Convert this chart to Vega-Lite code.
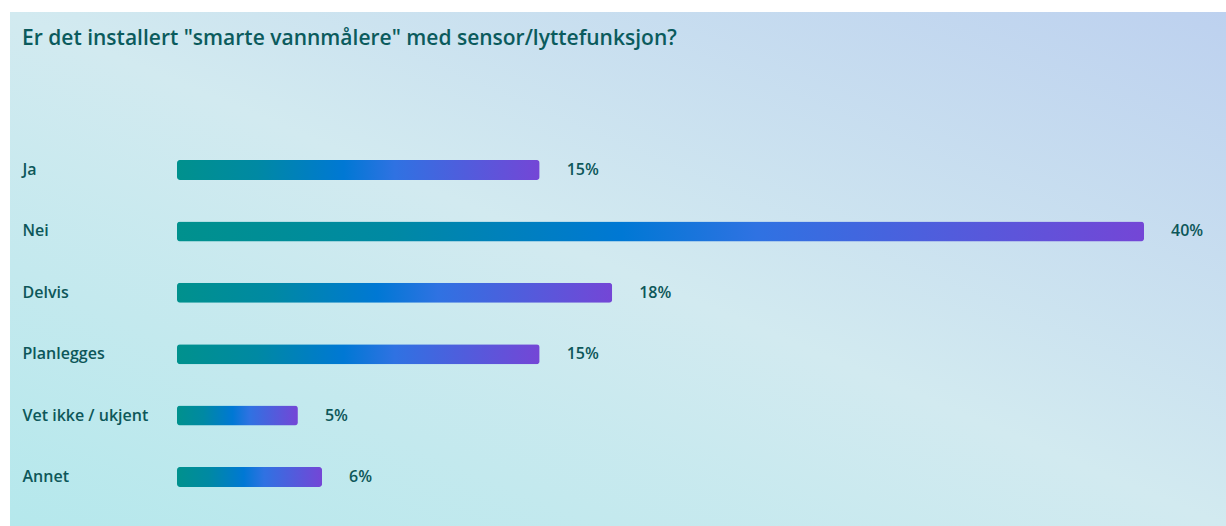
{
  "$schema": "https://vega.github.io/schema/vega-lite/v6.json",
  "width": 1216,
  "height": 514,
  "autosize": {"type": "none"},
  "padding": {"left": 10, "top": 12, "right": 0, "bottom": 0},
  "background": "#ffffff",
  "title": {
    "text": "Er det installert \"smarte vannmålere\" med sensor/lyttefunksjon?",
    "anchor": "start",
    "frame": "group",
    "orient": "top",
    "offset": -54,
    "dx": 12,
    "baseline": "alphabetic",
    "font": "Open Sans",
    "fontSize": 21,
    "fontWeight": 600,
    "color": "#0b5b5d"
  },
  "data": {
    "values": [
      {"svar": "Ja", "andel": 0.15},
      {"svar": "Nei", "andel": 0.40},
      {"svar": "Delvis", "andel": 0.18},
      {"svar": "Planlegges", "andel": 0.15},
      {"svar": "Vet ikke / ukjent", "andel": 0.05},
      {"svar": "Annet", "andel": 0.06}
    ]
  },
  "encoding": {
    "y": {
      "field": "svar",
      "type": "nominal",
      "sort": null,
      "title": null,
      "scale": {"range": [127.3, 495.7], "paddingInner": 0.674, "paddingOuter": 0.337},
      "axis": {
        "domain": false,
        "ticks": false,
        "grid": false,
        "labelAlign": "left",
        "labelPadding": -12,
        "labelFont": "Open Sans",
        "labelFontSize": 16,
        "labelFontWeight": 600,
        "labelColor": "#0d5759"
      }
    }
  },
  "layer": [
    {
      "mark": {
        "type": "bar",
        "cornerRadius": 3,
        "color": {
          "gradient": "linear",
          "x1": 0, "y1": 0, "x2": 1, "y2": 0,
          "stops": [
            {"offset": 0, "color": "#00918d"},
            {"offset": 0.22, "color": "#0089a3"},
            {"offset": 0.46, "color": "#0078d4"},
            {"offset": 0.6, "color": "#2f72e2"},
            {"offset": 1, "color": "#7446d6"}
          ]
        }
      },
      "encoding": {
        "x": {
          "field": "andel",
          "type": "quantitative",
          "title": null,
          "scale": {"domain": [0, 0.4], "range": [167, 1134], "zero": true},
          "axis": null
        }
      }
    },
    {
      "mark": {
        "type": "text",
        "align": "left",
        "baseline": "middle",
        "dx": 27,
        "font": "Open Sans",
        "fontSize": 16,
        "fontWeight": 600,
        "color": "#0d5759"
      },
      "encoding": {
        "x": {"field": "andel", "type": "quantitative"},
        "text": {"field": "andel", "type": "quantitative", "format": ".0%"}
      }
    }
  ],
  "config": {
    "view": {
      "stroke": null,
      "fill": {
        "gradient": "linear",
        "x1": 1, "y1": 0, "x2": 0, "y2": 1,
        "stops": [
          {"offset": 0, "color": "#bdd1ef"},
          {"offset": 0.5, "color": "#d2eaf0"},
          {"offset": 1, "color": "#b5e8ec"}
        ]
      }
    }
  }
}
